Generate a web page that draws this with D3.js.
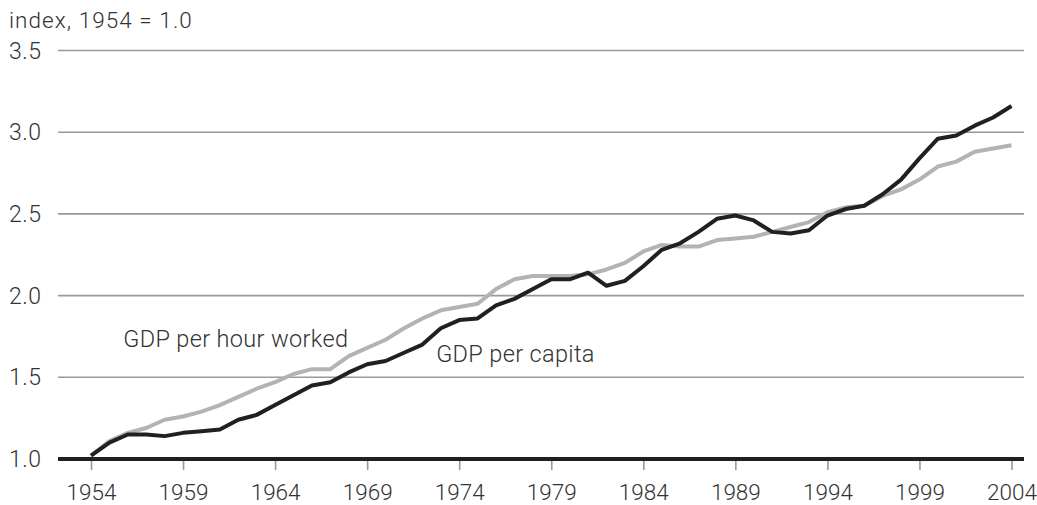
<!DOCTYPE html>
<html>
<head>
<meta charset="utf-8">
<script src="https://cdn.jsdelivr.net/npm/d3@7"></script>
<style>
  body { margin: 0; background: #fff; }
  svg text { font-family: Roboto, "Liberation Sans", sans-serif; font-weight: 300; fill: #333; }
</style>
</head>
<body>
<svg width="1037" height="505"></svg>
<script>
// years 1954..2004
const years = d3.range(1954, 2005);

// GDP per capita (black line)
const perCapita = [
  1.02, 1.10, 1.15, 1.15, 1.14, 1.16, 1.17, 1.18, 1.24, 1.27,
  1.33, 1.39, 1.45, 1.47, 1.53, 1.58, 1.60, 1.65, 1.70, 1.80,
  1.85, 1.86, 1.94, 1.98, 2.04, 2.10, 2.10, 2.14, 2.06, 2.09,
  2.18, 2.28, 2.32, 2.39, 2.47, 2.49, 2.46, 2.39, 2.38, 2.40,
  2.49, 2.53, 2.55, 2.62, 2.71, 2.84, 2.96, 2.98, 3.04, 3.09,
  3.16
];

// GDP per hour worked (grey line)
const perHour = [
  1.02, 1.11, 1.16, 1.19, 1.24, 1.26, 1.29, 1.33, 1.38, 1.43,
  1.47, 1.52, 1.55, 1.55, 1.63, 1.68, 1.73, 1.80, 1.86, 1.91,
  1.93, 1.95, 2.04, 2.10, 2.12, 2.12, 2.12, 2.13, 2.16, 2.20,
  2.27, 2.31, 2.30, 2.30, 2.34, 2.35, 2.36, 2.39, 2.42, 2.45,
  2.51, 2.54, 2.55, 2.61, 2.65, 2.71, 2.79, 2.82, 2.88, 2.90,
  2.92
];

const yTicks = [1.0, 1.5, 2.0, 2.5, 3.0, 3.5];
const xTicks = [1954, 1959, 1964, 1969, 1974, 1979, 1984, 1989, 1994, 1999, 2004];

const svg = d3.select('svg');

const x = d3.scaleLinear().domain([1954, 2004]).range([91, 1011.5]);
const y = d3.scaleLinear().domain([1, 3.5]).range([459, 50.5]);

const gridLeft = 58, gridRight = 1024;

// title
svg.append('text')
  .attr('x', 9)
  .attr('y', 28)
  .style('font-size', '22.5px')
  .style('letter-spacing', '1.05px')
  .text('index, 1954 = 1.0');

// gridlines
svg.append('g')
  .selectAll('line')
  .data(yTicks.filter(d => d > 1))
  .enter()
  .append('line')
  .attr('x1', gridLeft)
  .attr('x2', gridRight)
  .attr('y1', d => y(d))
  .attr('y2', d => y(d))
  .attr('stroke', '#999')
  .attr('stroke-width', 1.6);

// y labels
svg.append('g')
  .selectAll('text')
  .data(yTicks)
  .enter()
  .append('text')
  .attr('x', 9)
  .attr('y', d => y(d))
  .attr('dy', '0.35em')
  .style('font-size', '23px')
  .style('letter-spacing', '0.5px')
  .text(d => d3.format('.1f')(d));

// x axis ticks + labels
const xAxis = svg.append('g')
  .attr('transform', `translate(0, ${y(1)})`)
  .call(d3.axisBottom(x).tickValues(xTicks).tickFormat(d3.format('d')).tickSize(11).tickPadding(14));
xAxis.select('.domain').remove();
xAxis.selectAll('.tick line').attr('stroke', '#999').attr('stroke-width', 1.6);
xAxis.selectAll('.tick text')
  .style('font-size', '22.5px')
  .style('font-family', 'Roboto, "Liberation Sans", sans-serif')
  .style('font-weight', 300)
  .attr('fill', '#333');

// baseline
svg.append('line')
  .attr('x1', gridLeft)
  .attr('x2', gridRight)
  .attr('y1', y(1))
  .attr('y2', y(1))
  .attr('stroke', '#231f20')
  .attr('stroke-width', 4);

const line = d3.line()
  .x((d, i) => x(years[i]))
  .y(d => y(d));

svg.append('path')
  .datum(perHour)
  .attr('fill', 'none')
  .attr('stroke', '#b3b3b3')
  .attr('stroke-width', 4)
  .attr('stroke-linejoin', 'round')
  .attr('d', line);

svg.append('path')
  .datum(perCapita)
  .attr('fill', 'none')
  .attr('stroke', '#231f20')
  .attr('stroke-width', 4)
  .attr('stroke-linejoin', 'round')
  .attr('d', line);

// series labels
svg.append('text')
  .attr('x', x(1955.75))
  .attr('y', y(1.687))
  .style('font-size', '23.5px')
  .style('letter-spacing', '0.35px')
  .text('GDP per hour worked');

svg.append('text')
  .attr('x', x(1972.75))
  .attr('y', y(1.595))
  .style('font-size', '23.5px')
  .style('letter-spacing', '0.35px')
  .text('GDP per capita');
</script>
</body>
</html>
